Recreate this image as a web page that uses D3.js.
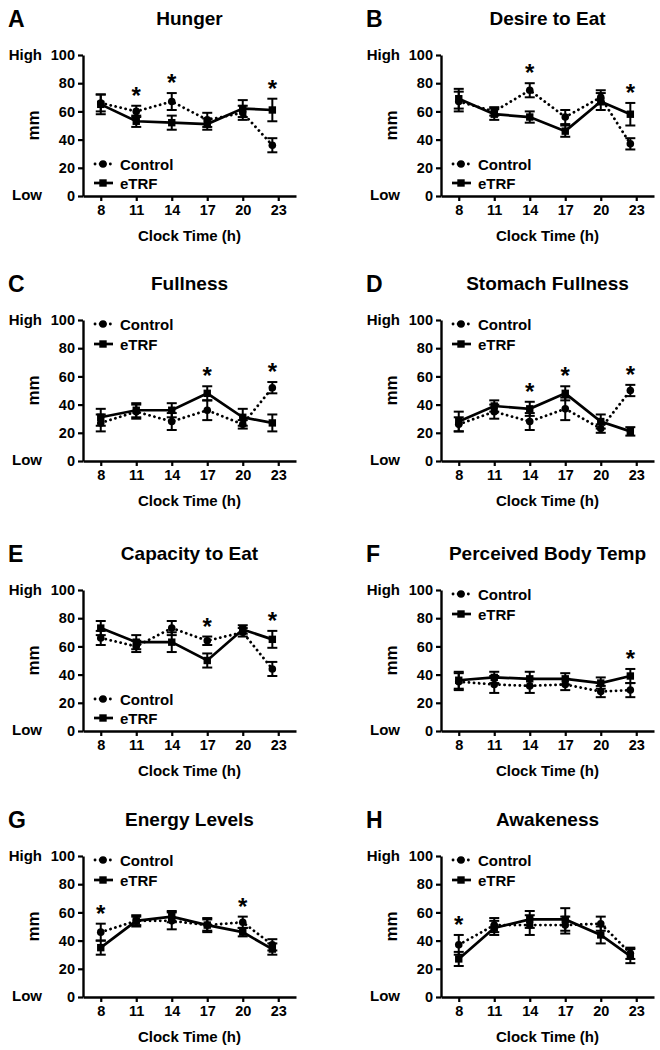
<!DOCTYPE html>
<html><head><meta charset="utf-8">
<script src="https://cdn.jsdelivr.net/npm/d3@7"></script>
<style>
body{margin:0;background:#fff}
svg{display:block}
text{font-family:"Liberation Sans",Arial,sans-serif;font-weight:bold;fill:#000}
</style>
</head><body>
<svg id="c" width="660" height="1050"></svg>
<script>
// ---------- data ----------
const hours = [8, 11, 14, 17, 20, 22.5];
const tickHours = [8, 11, 14, 17, 20, 23];
const yTicks = [0, 20, 40, 60, 80, 100];
const seriesNames = ["Control", "eTRF"];

const hungerCtrl = [66, 60, 67, 54, 59, 36];
const hungerCtrlErr = [6, 4, 6, 5, 5, 5];
const hungerETRF = [65, 53, 52, 51, 62, 61];
const hungerETRFErr = [7, 4, 5, 4, 6, 8];
const hungerStars = [11, 14, 22.5];

const desireCtrl = [67, 60, 75, 56, 70, 37];
const desireCtrlErr = [7, 3, 5, 5, 5, 4];
const desireETRF = [69, 58, 56, 46, 67, 58];
const desireETRFErr = [7, 4, 4, 4, 6, 8];
const desireStars = [14, 22.5];

const fullCtrl = [27, 35, 28, 36, 26, 52];
const fullCtrlErr = [6, 5, 6, 7, 3, 4];
const fullETRF = [31, 36, 36, 48, 31, 27];
const fullETRFErr = [6, 5, 5, 5, 6, 6];
const fullStars = [17, 22.5];

const stomachCtrl = [26, 35, 28, 37, 23, 50];
const stomachCtrlErr = [5, 5, 6, 8, 3, 4];
const stomachETRF = [28, 39, 37, 48, 28, 21];
const stomachETRFErr = [7, 4, 5, 5, 5, 3];
const stomachStars = [14, 17, 22.5];

const capacityCtrl = [66, 60, 73, 64, 70, 44];
const capacityCtrlErr = [5, 4, 5, 3, 3, 5];
const capacityETRF = [73, 63, 63, 50, 72, 65];
const capacityETRFErr = [5, 5, 7, 5, 3, 6];
const capacityStars = [17, 22.5];

const tempCtrl = [35, 33, 32, 33, 28, 29];
const tempCtrlErr = [6, 6, 5, 4, 4, 5];
const tempETRF = [36, 38, 37, 37, 34, 39];
const tempETRFErr = [6, 4, 5, 4, 4, 5];
const tempStars = [22.5];

const energyCtrl = [46, 54, 54, 51, 53, 37];
const energyCtrlErr = [6, 4, 6, 5, 4, 4];
const energyETRF = [35, 54, 57, 51, 46, 34];
const energyETRFErr = [5, 3, 4, 4, 3, 4];
const energyStars = [8, 20];

const awakeCtrl = [37, 51, 51, 51, 52, 31];
const awakeCtrlErr = [7, 5, 7, 6, 5, 4];
const awakeETRF = [27, 49, 55, 55, 44, 29];
const awakeETRFErr = [5, 5, 6, 8, 6, 5];
const awakeStars = [8];

const panels = [
  {letter:"A", title:"Hunger", ctrl:hungerCtrl, ctrlErr:hungerCtrlErr, etrf:hungerETRF, etrfErr:hungerETRFErr, stars:hungerStars, legendTop:false},
  {letter:"B", title:"Desire to Eat", ctrl:desireCtrl, ctrlErr:desireCtrlErr, etrf:desireETRF, etrfErr:desireETRFErr, stars:desireStars, legendTop:false},
  {letter:"C", title:"Fullness", ctrl:fullCtrl, ctrlErr:fullCtrlErr, etrf:fullETRF, etrfErr:fullETRFErr, stars:fullStars, legendTop:true},
  {letter:"D", title:"Stomach Fullness", ctrl:stomachCtrl, ctrlErr:stomachCtrlErr, etrf:stomachETRF, etrfErr:stomachETRFErr, stars:stomachStars, legendTop:true},
  {letter:"E", title:"Capacity to Eat", ctrl:capacityCtrl, ctrlErr:capacityCtrlErr, etrf:capacityETRF, etrfErr:capacityETRFErr, stars:capacityStars, legendTop:false},
  {letter:"F", title:"Perceived Body Temp", ctrl:tempCtrl, ctrlErr:tempCtrlErr, etrf:tempETRF, etrfErr:tempETRFErr, stars:tempStars, legendTop:true},
  {letter:"G", title:"Energy Levels", ctrl:energyCtrl, ctrlErr:energyCtrlErr, etrf:energyETRF, etrfErr:energyETRFErr, stars:energyStars, legendTop:true},
  {letter:"H", title:"Awakeness", ctrl:awakeCtrl, ctrlErr:awakeCtrlErr, etrf:awakeETRF, etrfErr:awakeETRFErr, stars:awakeStars, legendTop:true}
];

// ---------- layout ----------
const colX = [83, 441];
const rowTop = [55, 320, 590, 856];
const plotW = 213, plotH = 141;
const svg = d3.select("#c");

const x = d3.scaleLinear().domain([6.5, 24.5]).range([0, plotW]);
const y = d3.scaleLinear().domain([0, 100]).range([plotH, 0]);

function drawSeries(g, vals, errs, dotted, marker) {
  const line = d3.line().x((d, i) => x(hours[i])).y(d => y(d));
  g.append("path").datum(vals).attr("d", line)
    .attr("fill", "none").attr("stroke", "#000")
    .attr("stroke-width", dotted ? 2.8 : 2.7)
    .attr("stroke-linecap", dotted ? "round" : "butt")
    .attr("stroke-dasharray", dotted ? "0.1,5" : null);
  const eb = g.append("g").attr("stroke", "#000").attr("stroke-width", 2);
  vals.forEach((v, i) => {
    const cx = x(hours[i]);
    eb.append("line").attr("x1", cx).attr("x2", cx).attr("y1", y(v - errs[i])).attr("y2", y(v + errs[i]));
    eb.append("line").attr("x1", cx - 5).attr("x2", cx + 5).attr("y1", y(v - errs[i])).attr("y2", y(v - errs[i]));
    eb.append("line").attr("x1", cx - 5).attr("x2", cx + 5).attr("y1", y(v + errs[i])).attr("y2", y(v + errs[i]));
  });
  vals.forEach((v, i) => drawMarker(g, x(hours[i]), y(v), marker));
}

function drawMarker(g, cx, cy, marker) {
  if (marker === "circle") {
    g.append("circle").attr("cx", cx).attr("cy", cy).attr("r", 3.8).attr("fill", "#000");
  } else {
    g.append("rect").attr("x", cx - 3.7).attr("y", cy - 3.7).attr("width", 7.4).attr("height", 7.4).attr("fill", "#000");
  }
}

panels.forEach((p, idx) => {
  const col = idx % 2, row = Math.floor(idx / 2);
  const g = svg.append("g").attr("transform", `translate(${colX[col]},${rowTop[row]})`);

  // titles
  g.append("text").attr("x", plotW / 2).attr("y", -30).attr("text-anchor", "middle")
    .attr("font-size", 19).text(p.title);
  g.append("text").attr("x", -75).attr("y", -28).attr("font-size", 23).text(p.letter);

  // axes
  const xa = g.append("g").attr("transform", `translate(0,${plotH})`)
    .call(d3.axisBottom(x).tickValues(tickHours).tickFormat(d3.format("d")).tickSize(5).tickSizeOuter(0).tickPadding(4));
  const ya = g.append("g")
    .call(d3.axisLeft(y).tickValues(yTicks).tickSize(5).tickSizeOuter(0).tickPadding(3));
  [xa, ya].forEach(a => {
    a.attr("font-family", null).attr("font-size", null);
    a.select(".domain").attr("stroke-width", 2.4);
    a.selectAll(".tick line").attr("stroke-width", 2.2);
    a.selectAll(".tick text").attr("font-size", 14.5).attr("fill", "#000");
  });

  g.append("text").attr("x", -41).attr("y", 5).attr("text-anchor", "end").attr("font-size", 15).text("High");
  g.append("text").attr("x", -41).attr("y", plotH + 4).attr("text-anchor", "end").attr("font-size", 15).text("Low");
  g.append("text").attr("transform", `translate(-44,${plotH / 2}) rotate(-90)`)
    .attr("text-anchor", "middle").attr("font-size", 17).text("mm");
  g.append("text").attr("x", plotW / 2).attr("y", plotH + 45).attr("text-anchor", "middle")
    .attr("font-size", 15).text("Clock Time (h)");

  // series
  drawSeries(g, p.ctrl, p.ctrlErr, true, "circle");
  drawSeries(g, p.etrf, p.etrfErr, false, "square");

  // significance stars
  p.stars.forEach(h => {
    const i = hours.indexOf(h);
    const top = Math.max(p.ctrl[i] + p.ctrlErr[i], p.etrf[i] + p.etrfErr[i]);
    g.append("text").attr("x", x(h)).attr("y", y(top) - 2).attr("text-anchor", "middle")
      .attr("font-size", 24).text("*");
  });

  // legend
  const ly = p.legendTop ? [4, 24] : [plotH - 32, plotH - 13];
  seriesNames.forEach((name, k) => {
    const yy = ly[k];
    g.append("line").attr("x1", k === 0 ? 12 : 11).attr("x2", 30).attr("y1", yy).attr("y2", yy)
      .attr("stroke", "#000").attr("stroke-width", k === 0 ? 2.8 : 2.7)
      .attr("stroke-linecap", k === 0 ? "round" : "butt")
      .attr("stroke-dasharray", k === 0 ? "0.1,5" : null);
    drawMarker(g, 20, yy, k === 0 ? "circle" : "square");
    g.append("text").attr("x", 37).attr("y", yy + 5.5).attr("font-size", 15).text(name);
  });
});
</script>
</body></html>
